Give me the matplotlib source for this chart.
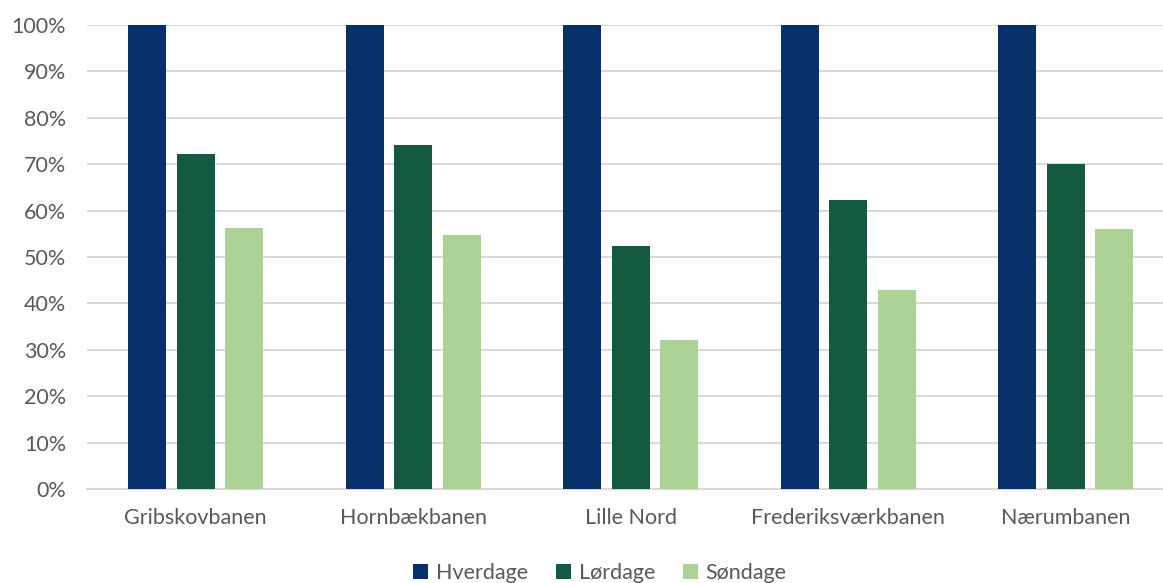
import matplotlib.pyplot as plt
import numpy as np

categories = ['Gribskovbanen', 'Hornbækbanen', 'Lille Nord', 'Frederiksværkbanen', 'Nærumbanen']
hverdage = [100, 100, 100, 100, 100]
lordage = [72.2, 74.1, 52.4, 62.3, 70.0]
sondage = [56.3, 54.7, 32.1, 42.9, 56.0]
series_names = ['Hverdage', 'Lørdage', 'Søndage']
colors = ['#05306a', '#135a3f', '#acd295']

plt.rcParams['font.family'] = ['Lato', 'DejaVu Sans']

fig = plt.figure(figsize=(11.63, 5.83), dpi=100)
ax = fig.add_axes([87 / 1163, 1 - 489 / 583, 1076 / 1163, 464 / 583])

x = np.arange(len(categories))
w = 0.175
step = 0.222
for i, (vals, name) in enumerate(zip([hverdage, lordage, sondage], series_names)):
    ax.bar(x + (i - 1) * step, vals, width=w, color=colors[i], label=name, zorder=3)

ax.set_xlim(-0.5, -0.5 + 1076 / 217.5)
ax.set_ylim(0, 100)
ax.set_yticks(np.arange(0, 101, 10))
ax.set_yticklabels([f'{v}%' for v in range(0, 101, 10)])
ax.set_xticks(x)
ax.set_xticklabels(categories)
ax.grid(axis='y', color='#d9d9d9', linewidth=1.5, zorder=0)
for s in ['top', 'right', 'left']:
    ax.spines[s].set_visible(False)
ax.spines['bottom'].set_color('#d9d9d9')
ax.spines['bottom'].set_linewidth(1.5)
ax.tick_params(axis='both', length=0, labelsize=15.5, labelcolor='#595959')
ax.tick_params(axis='x', pad=14)
ax.tick_params(axis='y', pad=15)

leg = fig.legend(loc='center', bbox_to_anchor=(600 / 1163, 1 - 573 / 583), ncol=3,
                 frameon=False, fontsize=15.5, handlelength=0.7, handleheight=0.7,
                 handletextpad=0.35, columnspacing=1.3)
for t in leg.get_texts():
    t.set_color('#595959')

fig.savefig('out.png', dpi=100)
